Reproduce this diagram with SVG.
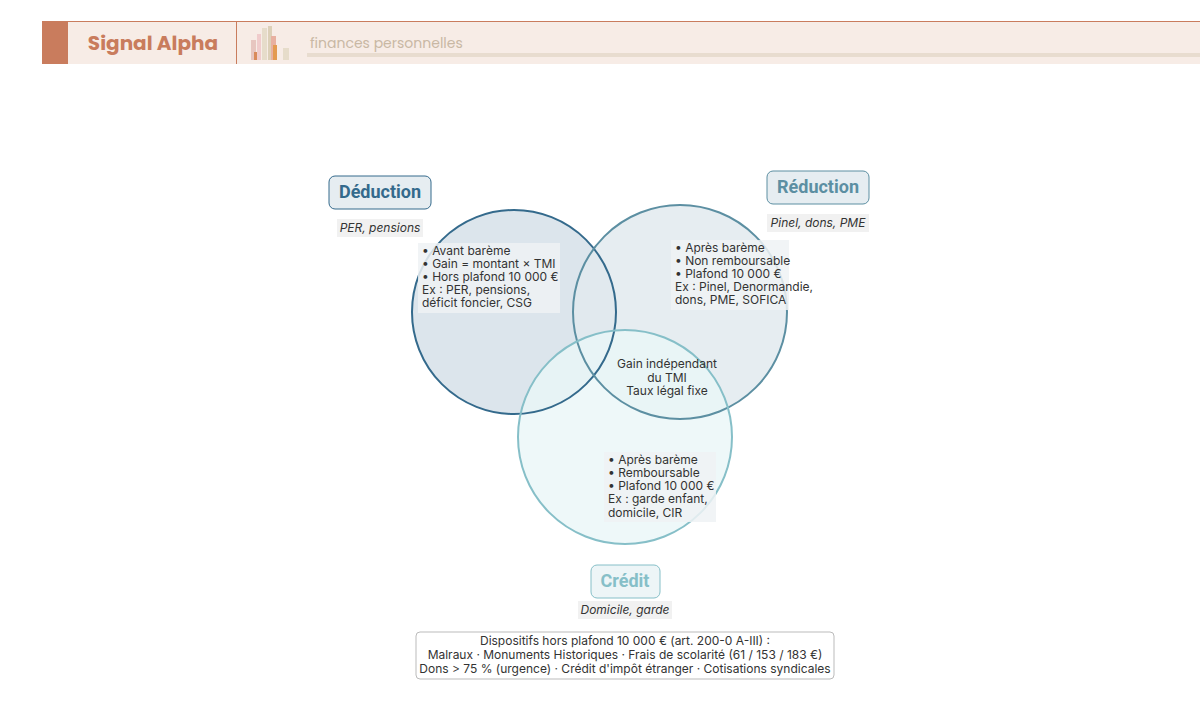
<svg xmlns="http://www.w3.org/2000/svg" width="1200" height="721" viewBox="0 0 1200 721">
<style>
.t{font-family:Inter,"Liberation Sans",sans-serif;font-size:12px;fill:#333}
.lab{font-family:Roboto,"Liberation Sans",sans-serif;font-size:18px;font-weight:bold;text-anchor:middle}
.sub{font-family:Inter,"Liberation Sans",sans-serif;font-size:12px;font-style:italic;fill:#333;text-anchor:middle}
.bg{fill:#eef2f4;opacity:0.85}
.sb{fill:#f1f1f1}
.ring{fill:none;stroke-width:2}
</style>
<rect width="1200" height="721" fill="#fff"/>
<g id="header">
<rect x="42" y="21" width="1158" height="43" fill="#f7ece6"/>
<line x1="42" y1="21.5" x2="1200" y2="21.5" stroke="#c97c5d"/>
<rect x="42" y="21" width="26" height="43" fill="#c97c5d"/>
<line x1="236.5" y1="21" x2="236.5" y2="64" stroke="#c97c5d"/>
<text x="153" y="50" text-anchor="middle" font-family="Poppins,'Noto Sans',sans-serif" font-weight="bold" font-size="20" fill="#c97c5d">Signal Alpha</text>
<rect x="251" y="40" width="5" height="20" fill="#e7c6c0"/>
<rect x="257" y="34" width="4" height="26" fill="#f0cccc"/>
<rect x="262" y="28" width="5" height="32" fill="#e6dcca"/>
<rect x="268" y="26" width="4" height="34" fill="#dcd0b8"/>
<rect x="271" y="36" width="5" height="24" fill="#e8b0a0"/>
<rect x="273" y="45" width="4" height="15" fill="#e39a50"/>
<rect x="283" y="48" width="6" height="12" fill="#e6dcca"/>
<rect x="254" y="52" width="3" height="8" fill="#d98a5a"/>
<text x="310" y="48" font-family="Poppins,'Noto Sans',sans-serif" font-size="14" fill="#c9b8a4">finances personnelles</text>
<rect x="307" y="53" width="893" height="4" fill="#e8dccf"/>
</g>
<g id="circles">
<circle cx="514" cy="312" r="102" fill="#dce5ec"/>
<circle cx="680" cy="312" r="107" fill="#e2eaee" fill-opacity="0.85"/>
<circle cx="625" cy="437" r="107" fill="#eaf6f8" fill-opacity="0.8"/>
<circle id="deduction" class="ring" cx="514" cy="312" r="102" stroke="#346a8c"/>
<circle id="reduction" class="ring" cx="680" cy="312" r="107" stroke="#5c8fa2"/>
<circle id="credit" class="ring" cx="625" cy="437" r="107" stroke="#86bfc8"/>
</g>
<g id="labels">
<rect x="329" y="176" width="102" height="33" rx="6" fill="#e6edf1" stroke="#346a8c"/>
<text class="lab" x="380" y="198" fill="#346a8c">Déduction</text>
<rect x="337" y="219" width="86" height="18" class="sb"/>
<text class="sub" x="380" y="232">PER, pensions</text>
<rect x="767" y="171" width="102" height="33" rx="6" fill="#e6edf1" stroke="#5c8fa2"/>
<text class="lab" x="818" y="193" fill="#5c8fa2">Réduction</text>
<rect x="767" y="214" width="102" height="18" class="sb"/>
<text class="sub" x="818" y="227">Pinel, dons, PME</text>
<rect x="591" y="565" width="69" height="33" rx="6" fill="#edf5f7" stroke="#86bfc8"/>
<text class="lab" x="625" y="587" fill="#86bfc8">Crédit</text>
<rect x="578" y="601" width="94" height="18" class="sb"/>
<text class="sub" x="625" y="614">Domicile, garde</text>
</g>
<g id="texts">
<rect x="418" y="243" width="142" height="70" class="bg"/>
<text class="t" x="422" y="255">• Avant barème</text>
<text class="t" x="422" y="268">• Gain = montant × TMI</text>
<text class="t" x="422" y="281">• Hors plafond 10 000 €</text>
<text class="t" x="422" y="294">Ex : PER, pensions,</text>
<text class="t" x="422" y="307">déficit foncier, CSG</text>
<rect x="671" y="240" width="118" height="70" class="bg"/>
<text class="t" x="675" y="252">• Après barème</text>
<text class="t" x="675" y="265">• Non remboursable</text>
<text class="t" x="675" y="278">• Plafond 10 000 €</text>
<text class="t" x="675" y="291">Ex : Pinel, Denormandie,</text>
<text class="t" x="675" y="304">dons, PME, SOFICA</text>
<text class="t" x="667" y="368" text-anchor="middle">Gain indépendant</text>
<text class="t" x="667" y="382" text-anchor="middle">du TMI</text>
<text class="t" x="667" y="395" text-anchor="middle">Taux légal fixe</text>
<rect x="604" y="452" width="112" height="70" class="bg"/>
<text class="t" x="608" y="464">• Après barème</text>
<text class="t" x="608" y="477">• Remboursable</text>
<text class="t" x="608" y="490">• Plafond 10 000 €</text>
<text class="t" x="608" y="503">Ex : garde enfant,</text>
<text class="t" x="608" y="517">domicile, CIR</text>
</g>
<g id="note">
<rect x="416" y="632" width="418" height="47" rx="4" fill="#fff" stroke="#bbb"/>
<text class="t" x="625" y="645" text-anchor="middle">Dispositifs hors plafond 10 000 € (art. 200-0 A-III) :</text>
<text class="t" x="625" y="659" text-anchor="middle">Malraux · Monuments Historiques · Frais de scolarité (61 / 153 / 183 €)</text>
<text class="t" x="625" y="673" text-anchor="middle">Dons &gt; 75 % (urgence) · Crédit d'impôt étranger · Cotisations syndicales</text>
</g>
</svg>
